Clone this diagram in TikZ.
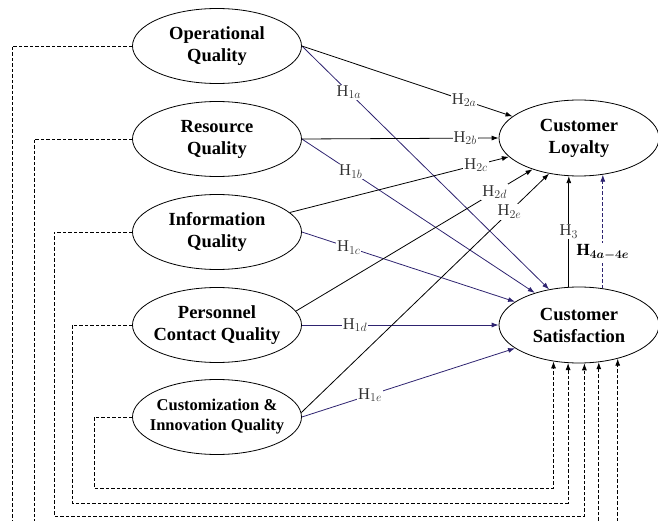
\documentclass[tikz,border=0pt]{standalone}
\usepackage{fontspec}
\setmainfont{Liberation Serif}
\usepackage{amsmath}
\usepackage{tikz}
\usetikzlibrary{shapes.geometric,arrows.meta}
\definecolor{navy}{RGB}{46,35,112}

\begin{document}
\begin{tikzpicture}[x=1pt,y=-1pt,
   cons/.style={ellipse,draw,line width=0.8pt,minimum width=169pt,minimum height=75pt,inner sep=0pt,inner xsep=-10pt,align=center,font=\bfseries\fontsize{18.5}{22}\selectfont},
   outc/.style={cons,minimum width=160pt,minimum height=76pt},
   hyp/.style={line width=0.8pt,-{Latex[length=7pt,width=5pt]}},
   hone/.style={hyp,navy},
   fb/.style={hyp,dash pattern=on 3.5pt off 2pt},
   hfour/.style={fb,navy},
   hlab/.style={fill=white,inner sep=1pt,text=black!80,font=\fontsize{16.5}{18}\selectfont},
   hbold/.style={hlab,text=black,font=\bfseries\fontsize{17}{18}\selectfont}]
\useasboundingbox (0,0) rectangle (658,521);
\clip (0,0) rectangle (658,521);
\node[cons] (oq) at (217,46) {Operational\\Quality};
\node[cons] (rq) at (217,139) {Resource\\Quality};
\node[cons] (iq) at (217,232) {Information\\Quality};
\node[cons] (pq) at (217,325) {Personnel\\Contact Quality};
\node[cons,font=\bfseries\fontsize{16.5}{20}\selectfont] (cq) at (217,417) {Customization \&\\Innovation Quality};
\node[outc] (cl) at (579,138) {Customer\\Loyalty};
\node[outc] (cs) at (579,325) {Customer\\Satisfaction};
% dimensions -> satisfaction
\foreach \s/\t/\p/\l in %
{oq/130/0.19/1a,rq/144/0.21/1b,iq/160/0.22/1c,pq/180/0.27/1d,cq/200/0.32/1e} {
   \draw[hone] (\s.east) -- node[hlab,pos=\p]{H$_{\l}$} (cs.\t);
}
% dimensions -> loyalty
\foreach \s/\a/\t/\p/\l in %
{oq/east/162/0.77/2a,rq/east/180/0.83/2b,iq/15/195/0.85/2c,pq/10/214/0.84/2d,cq/3/230/0.84/2e} {
   \draw[hyp] (\s.\a) -- node[hlab,pos=\p]{H$_{\l}$} (cl.\t);
}
\draw[hyp] (cs.105) -- node[hlab]{H$_3$} (cl.255);
\draw[hfour] (cs.57) -- node[hbold,pos=0.32]{H$_{\boldsymbol{4a-4e}}$} (cl.303);
% mediation paths
\foreach \s/\x/\y/\t in %
{oq/12/545/319,rq/34/532/298,iq/54/516/278,pq/72/503/254,cq/94/488/235} {
   \draw[fb] (\s.west) -| (\x,\y) -| (cs.\t);
}
\end{tikzpicture}
\end{document}
